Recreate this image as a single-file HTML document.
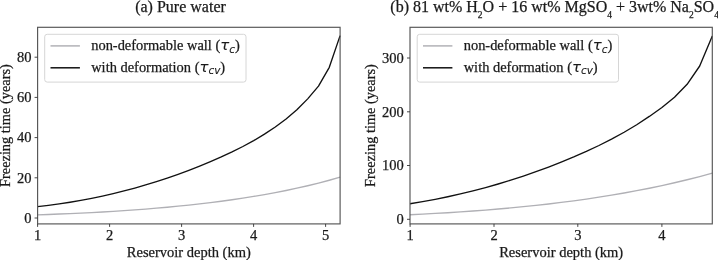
<!DOCTYPE html>
<html lang="en"><head><meta charset="utf-8"><title>Freezing time vs reservoir depth</title>
<style>html,body{margin:0;padding:0;background:#fff}svg{display:block}</style></head>
<body>
<svg width="718" height="260" viewBox="0 0 718 260"><style>
.t{font-family:"Liberation Serif", "DejaVu Serif", serif;font-size:14.5px;fill:#1a1a1a;stroke:#1a1a1a;stroke-width:0.25px}
.ti{font-family:"Liberation Serif", "DejaVu Serif", serif;font-size:16px;fill:#1a1a1a;stroke:#1a1a1a;stroke-width:0.25px}
.lg{font-size:14.45px}
.yl{font-size:14.37px}
.m{font-family:"DejaVu Sans", sans-serif;font-style:italic;font-size:14.9px;stroke-width:0.1px}
.ms{font-family:"DejaVu Sans", sans-serif;font-style:italic;font-size:10.4px;stroke-width:0.1px}
.sub{font-size:9.5px}
.tk{stroke:#333;stroke-width:0.9}
.fr{fill:none;stroke:#555;stroke-width:1.15}
.cb{fill:none;stroke:#111;stroke-width:1.35;stroke-linejoin:round}
.cg{fill:none;stroke:#b0b0b5;stroke-width:1.35;stroke-linejoin:round}
</style><rect width="718" height="260" fill="#fff"/><path d="M37.60,214.83 L48.40,214.46 L59.21,214.04 L70.01,213.59 L80.81,213.09 L91.62,212.55 L102.42,211.96 L113.22,211.32 L124.03,210.63 L134.83,209.88 L145.64,209.06 L156.44,208.18 L167.24,207.23 L178.05,206.20 L188.85,205.09 L199.65,203.90 L210.46,202.62 L221.26,201.24 L232.06,199.75 L242.87,198.15 L253.67,196.43 L264.48,194.59 L275.28,192.61 L286.08,190.48 L296.89,188.19 L307.69,185.73 L318.49,183.08 L329.30,180.24 L340.10,177.18" class="cg"/><path d="M37.60,206.64 L48.40,205.35 L59.21,203.89 L70.01,202.24 L80.81,200.39 L91.62,198.35 L102.42,196.09 L113.22,193.62 L124.03,190.93 L134.83,188.03 L145.64,184.91 L156.44,181.57 L167.24,178.03 L178.05,174.27 L188.85,170.29 L199.65,166.09 L210.46,161.64 L221.26,156.93 L232.06,151.89 L242.87,146.48 L253.67,140.61 L264.48,134.17 L275.28,127.01 L286.08,118.92 L296.89,109.66 L307.69,98.86 L318.49,86.08 L329.30,67.30 L340.10,35.60" class="cb"/><rect x="37.6" y="27.3" width="302.50" height="196.60" class="fr"/><line x1="34.60" y1="218.00" x2="37.60" y2="218.00" class="tk"/><text x="31.40" y="222.70" text-anchor="end" class="t">0</text><line x1="34.60" y1="177.80" x2="37.60" y2="177.80" class="tk"/><text x="31.40" y="182.50" text-anchor="end" class="t">20</text><line x1="34.60" y1="137.60" x2="37.60" y2="137.60" class="tk"/><text x="31.40" y="142.30" text-anchor="end" class="t">40</text><line x1="34.60" y1="97.40" x2="37.60" y2="97.40" class="tk"/><text x="31.40" y="102.10" text-anchor="end" class="t">60</text><line x1="34.60" y1="57.20" x2="37.60" y2="57.20" class="tk"/><text x="31.40" y="61.90" text-anchor="end" class="t">80</text><line x1="37.60" y1="223.90" x2="37.60" y2="226.90" class="tk"/><text x="37.60" y="240.0" text-anchor="middle" class="t">1</text><line x1="109.60" y1="223.90" x2="109.60" y2="226.90" class="tk"/><text x="109.60" y="240.0" text-anchor="middle" class="t">2</text><line x1="181.60" y1="223.90" x2="181.60" y2="226.90" class="tk"/><text x="181.60" y="240.0" text-anchor="middle" class="t">3</text><line x1="253.60" y1="223.90" x2="253.60" y2="226.90" class="tk"/><text x="253.60" y="240.0" text-anchor="middle" class="t">4</text><line x1="325.60" y1="223.90" x2="325.60" y2="226.90" class="tk"/><text x="325.60" y="240.0" text-anchor="middle" class="t">5</text><rect x="44.70" y="34.3" width="201.3" height="47.8" rx="2.5" ry="2.5" fill="#fff" fill-opacity="0.8" stroke="#d6d6d6" stroke-width="1"/><line x1="50.50" y1="45.9" x2="79.90" y2="45.9" stroke="#b2b2b6" stroke-width="1.5"/><line x1="50.50" y1="67.8" x2="79.90" y2="67.8" stroke="#111" stroke-width="1.5"/><text x="91.20" y="50.3" class="t lg">non-deformable wall (<tspan class="m">τ</tspan><tspan class="ms" dy="2.2">c</tspan><tspan dy="-2.2">)</tspan></text><text x="91.20" y="71.8" class="t lg">with deformation (<tspan class="m">τ</tspan><tspan class="ms" dy="2.2">cv</tspan><tspan dy="-2.2">)</tspan></text><text x="180.5" y="11.7" text-anchor="middle" class="ti">(a) Pure water</text><text x="188.8" y="256.6" text-anchor="middle" class="t">Reservoir depth (km)</text><text transform="translate(10.3,125.6) rotate(-90)" text-anchor="middle" class="t yl">Freezing time (years)</text><path d="M410.00,214.72 L422.60,214.11 L435.19,213.44 L447.79,212.71 L460.38,211.90 L472.98,211.02 L485.57,210.07 L498.17,209.03 L510.77,207.91 L523.36,206.69 L535.96,205.38 L548.55,203.96 L561.15,202.44 L573.75,200.81 L586.34,199.06 L598.94,197.18 L611.53,195.17 L624.13,193.01 L636.72,190.71 L649.32,188.24 L661.92,185.60 L674.51,182.78 L687.11,179.76 L699.70,176.53 L712.30,173.07" class="cg"/><path d="M410.00,203.76 L422.60,201.66 L435.19,199.33 L447.79,196.76 L460.38,193.94 L472.98,190.88 L485.57,187.56 L498.17,183.99 L510.77,180.16 L523.36,176.07 L535.96,171.72 L548.55,167.09 L561.15,162.19 L573.75,156.98 L586.34,151.43 L598.94,145.50 L611.53,139.14 L624.13,132.25 L636.72,124.73 L649.32,116.43 L661.92,107.50 L674.51,97.30 L687.11,84.30 L699.70,66.00 L712.30,36.00" class="cb"/><rect x="410.0" y="27.3" width="302.30" height="196.60" class="fr"/><line x1="407.00" y1="219.30" x2="410.00" y2="219.30" class="tk"/><text x="403.80" y="224.00" text-anchor="end" class="t">0</text><line x1="407.00" y1="165.50" x2="410.00" y2="165.50" class="tk"/><text x="403.80" y="170.20" text-anchor="end" class="t">100</text><line x1="407.00" y1="111.80" x2="410.00" y2="111.80" class="tk"/><text x="403.80" y="116.50" text-anchor="end" class="t">200</text><line x1="407.00" y1="58.00" x2="410.00" y2="58.00" class="tk"/><text x="403.80" y="62.70" text-anchor="end" class="t">300</text><line x1="410.10" y1="223.90" x2="410.10" y2="226.90" class="tk"/><text x="410.10" y="240.0" text-anchor="middle" class="t">1</text><line x1="494.00" y1="223.90" x2="494.00" y2="226.90" class="tk"/><text x="494.00" y="240.0" text-anchor="middle" class="t">2</text><line x1="577.80" y1="223.90" x2="577.80" y2="226.90" class="tk"/><text x="577.80" y="240.0" text-anchor="middle" class="t">3</text><line x1="661.90" y1="223.90" x2="661.90" y2="226.90" class="tk"/><text x="661.90" y="240.0" text-anchor="middle" class="t">4</text><rect x="417.20" y="34.3" width="201.3" height="47.8" rx="2.5" ry="2.5" fill="#fff" fill-opacity="0.8" stroke="#d6d6d6" stroke-width="1"/><line x1="423.00" y1="45.9" x2="452.40" y2="45.9" stroke="#b2b2b6" stroke-width="1.5"/><line x1="423.00" y1="67.8" x2="452.40" y2="67.8" stroke="#111" stroke-width="1.5"/><text x="463.70" y="50.3" class="t lg">non-deformable wall (<tspan class="m">τ</tspan><tspan class="ms" dy="2.2">c</tspan><tspan dy="-2.2">)</tspan></text><text x="463.70" y="71.8" class="t lg">with deformation (<tspan class="m">τ</tspan><tspan class="ms" dy="2.2">cv</tspan><tspan dy="-2.2">)</tspan></text><text x="390.3" y="11.7" class="ti">(b) 81 wt% H<tspan class="sub" dy="6.1">2</tspan><tspan dy="-6.1">O + 16 wt% MgSO</tspan><tspan class="sub" dy="6.1">4</tspan><tspan dy="-6.1"> + 3wt% Na</tspan><tspan class="sub" dy="6.1">2</tspan><tspan dy="-6.1">SO</tspan><tspan class="sub" dy="6.1">4</tspan></text><text x="561.2" y="256.9" text-anchor="middle" class="t">Reservoir depth (km)</text><text transform="translate(375.3,125.5) rotate(-90)" text-anchor="middle" class="t yl">Freezing time (years)</text></svg>
</body></html>
